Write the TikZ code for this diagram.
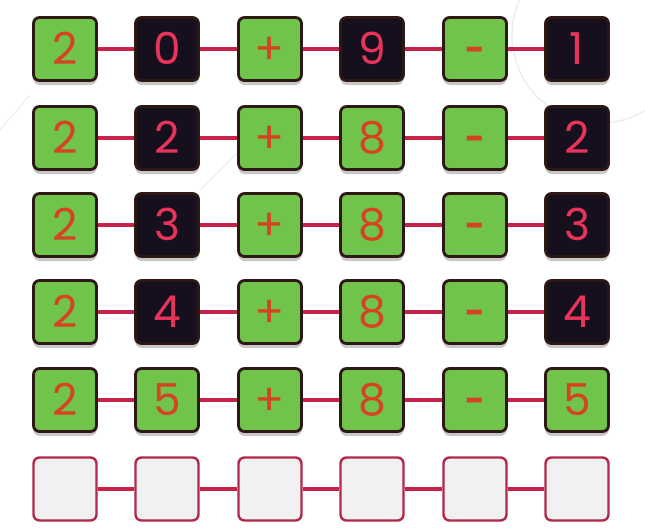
\documentclass[tikz,border=0pt]{standalone}
\usepackage{fontspec}
\setmainfont{Poppins}
\definecolor{tilegreen}{RGB}{112,196,76}
\definecolor{tiledark}{RGB}{22,16,30}
\definecolor{tileedge}{RGB}{45,24,20}
\definecolor{greentext}{RGB}{214,66,34}
\definecolor{darktext}{RGB}{232,52,90}
\definecolor{linkred}{RGB}{200,34,74}
\definecolor{emptyfill}{RGB}{242,241,242}
\definecolor{emptyedge}{RGB}{176,40,74}
\begin{document}
\begin{tikzpicture}[x=1pt,y=-1pt,
  tile/.style={rounded corners=6pt, minimum size=63pt, inner sep=0pt, line width=2.8pt, font=\fontsize{44}{44}\selectfont, text height=31pt, text depth=0pt},
  gtile/.style={tile, fill=tilegreen, draw=tileedge, text=greentext},
  dtile/.style={tile, fill=tiledark, draw=tileedge, text=darktext},
  mtile/.style={gtile, font=\fontsize{34}{34}\selectfont\bfseries, text height=24pt},
  etile/.style={tile, fill=emptyfill, draw=emptyedge, line width=2.4pt},
  shade/.style={fill=black, opacity=0.22, rounded corners=7pt},
  link/.style={draw=linkred, line width=3.4pt}]
\useasboundingbox (0,0) rectangle (645,531);
\fill[white] (0,0) rectangle (645,531);
\draw[black!8, line width=1.2pt] (600,35) circle (88);
\draw[black!7, line width=1pt] (0,130) -- (30,95);
\draw[black!7, line width=1pt] (200,190) -- (240,150);
\def\xa{65}\def\xb{167}\def\xc{270}\def\xd{372}\def\xe{475}\def\xf{577}
\def\ya{49}\def\yb{138}\def\yc{225}\def\yd{312}\def\ye{400}\def\yf{489}
\foreach \x in {\xa,\xb,\xc,\xd,\xe,\xf}
  \foreach \y in {\ya,\yb,\yc,\yd,\ye}
    \fill[shade] (\x-32,\y-28) rectangle (\x+32,\y+36);
% row 1
\node[gtile] (r1c1) at (\xa,\ya) {2};
\node[dtile] (r1c2) at (\xb,\ya) {0};
\node[gtile] (r1c3) at (\xc,\ya) {+};
\node[dtile] (r1c4) at (\xd,\ya) {9};
\node[mtile] (r1c5) at (\xe,\ya) {-};
\node[dtile] (r1c6) at (\xf,\ya) {1};
% row 2
\node[gtile] (r2c1) at (\xa,\yb) {2};
\node[dtile] (r2c2) at (\xb,\yb) {2};
\node[gtile] (r2c3) at (\xc,\yb) {+};
\node[gtile] (r2c4) at (\xd,\yb) {8};
\node[mtile] (r2c5) at (\xe,\yb) {-};
\node[dtile] (r2c6) at (\xf,\yb) {2};
% row 3
\node[gtile] (r3c1) at (\xa,\yc) {2};
\node[dtile] (r3c2) at (\xb,\yc) {3};
\node[gtile] (r3c3) at (\xc,\yc) {+};
\node[gtile] (r3c4) at (\xd,\yc) {8};
\node[mtile] (r3c5) at (\xe,\yc) {-};
\node[dtile] (r3c6) at (\xf,\yc) {3};
% row 4
\node[gtile] (r4c1) at (\xa,\yd) {2};
\node[dtile] (r4c2) at (\xb,\yd) {4};
\node[gtile] (r4c3) at (\xc,\yd) {+};
\node[gtile] (r4c4) at (\xd,\yd) {8};
\node[mtile] (r4c5) at (\xe,\yd) {-};
\node[dtile] (r4c6) at (\xf,\yd) {4};
% row 5
\node[gtile] (r5c1) at (\xa,\ye) {2};
\node[gtile] (r5c2) at (\xb,\ye) {5};
\node[gtile] (r5c3) at (\xc,\ye) {+};
\node[gtile] (r5c4) at (\xd,\ye) {8};
\node[mtile] (r5c5) at (\xe,\ye) {-};
\node[gtile] (r5c6) at (\xf,\ye) {5};
% row 6
\node[etile] (r6c1) at (\xa,\yf) {};
\node[etile] (r6c2) at (\xb,\yf) {};
\node[etile] (r6c3) at (\xc,\yf) {};
\node[etile] (r6c4) at (\xd,\yf) {};
\node[etile] (r6c5) at (\xe,\yf) {};
\node[etile] (r6c6) at (\xf,\yf) {};
\foreach \rr in {1,2,3,4,5,6}
  \foreach \ca/\cb in {1/2,2/3,3/4,4/5,5/6}
    \draw[link] (r\rr c\ca.east) -- (r\rr c\cb.west);
\end{tikzpicture}
\end{document}
